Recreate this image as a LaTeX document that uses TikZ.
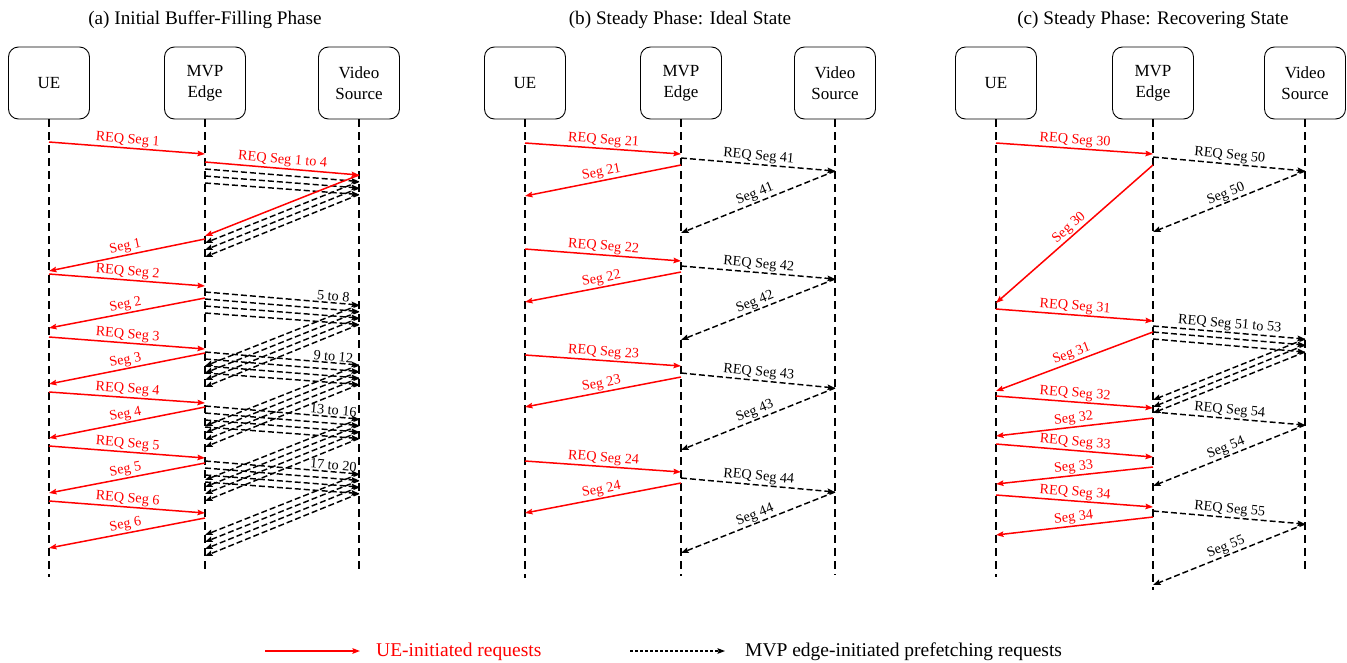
\documentclass[tikz,border=0pt]{standalone}
\usepackage{fontspec}
\setmainfont{Liberation Serif}
\usetikzlibrary{arrows.meta}
\tikzset{
  lifebox/.style={draw, line width=0.9pt, rounded corners=10pt, minimum width=81pt, minimum height=72pt, align=center, inner sep=0pt, font=\fontsize{17}{21}\selectfont},
  lifeline/.style={line width=1.3pt, dash pattern=on 8pt off 5pt},
  uemsg/.style={draw=red, line width=1.5pt, -{Stealth[length=7.5pt,width=5.5pt,inset=1.2pt]}},
  pfmsg/.style={line width=1.45pt, dash pattern=on 6pt off 3pt, -{Stealth[length=7.5pt,width=5.5pt,inset=1.2pt]}},
  lblr/.style={font=\fontsize{14.2}{16}\selectfont, text=red, sloped, above, inner sep=1pt, midway},
  lblk/.style={font=\fontsize{14.2}{16}\selectfont, text=black, sloped, above, inner sep=1pt, midway},
  ttl/.style={font=\fontsize{19.2}{22}\selectfont, anchor=base, inner sep=0pt},
  lgtxt/.style={font=\fontsize{19.5}{22}\selectfont, anchor=base west, inner sep=0pt},
}
\newcommand\mm[6]{\draw[#1] (#2|-0,#3) -- (#4|-0,#5) #6;}
\begin{document}
\begin{tikzpicture}[x=1pt,y=-1pt]
\useasboundingbox (0,0) rectangle (1347,662);

% ---------------- titles ----------------
\node[ttl] (ta) at (205,24) {(a) Initial Buffer-Filling Phase};
\node[ttl] (tb) at (680,24) {(b) Steady Phase: Ideal State};
\node[ttl] (tc) at (1153,24) {(c) Steady Phase: Recovering State};

% ---------------- boxes ----------------
\node[lifebox] (ueA)  at (49,83)  {UE};
\node[lifebox] (mvpA) at (205,83) {MVP\\Edge};
\node[lifebox] (vsA)  at (359,83) {Video\\Source};
\node[lifebox] (ueB)  at (525,83)  {UE};
\node[lifebox] (mvpB) at (681,83) {MVP\\Edge};
\node[lifebox] (vsB)  at (835,83) {Video\\Source};
\node[lifebox] (ueC)  at (996,83)  {UE};
\node[lifebox] (mvpC) at (1153,83) {MVP\\Edge};
\node[lifebox] (vsC)  at (1305,83) {Video\\Source};

% ---------------- lifelines ----------------
\coordinate (ueAend) at (49,577);   \coordinate (mvpAend) at (205,573); \coordinate (vsAend) at (359,573);
\coordinate (ueBend) at (525,578);  \coordinate (mvpBend) at (681,576); \coordinate (vsBend) at (835,575);
\coordinate (ueCend) at (996,577);  \coordinate (mvpCend) at (1153,590); \coordinate (vsCend) at (1305,572);
\foreach \n in {ueA,mvpA,vsA,ueB,mvpB,vsB,ueC,mvpC,vsC}
  \draw[lifeline] (\n.south) -- (\n end);

% ================= panel (a) =================
\mm{uemsg}{ueA}{142}{mvpA}{154}{node[lblr]{REQ Seg 1}}
\mm{uemsg}{mvpA}{162}{vsA}{175}{node[lblr]{REQ Seg 1 to 4}}
\foreach \i in {1,2,3}{
  \pgfmathsetmacro\ya{162+7*\i}
  \pgfmathsetmacro\yb{175+6.5*\i}
  \pgfmathsetmacro\yc{236+7*\i}
  \mm{pfmsg}{mvpA}{\ya}{vsA}{\yb}{}
  \mm{pfmsg}{vsA}{\yb}{mvpA}{\yc}{}
}
\mm{uemsg}{vsA}{175}{mvpA}{236}{}
\mm{uemsg}{mvpA}{239}{ueA}{271}{node[lblr]{Seg 1}}
\mm{uemsg}{ueA}{274}{mvpA}{286}{node[lblr]{REQ Seg 2}}
\mm{uemsg}{mvpA}{298}{ueA}{328}{node[lblr]{Seg 2}}
\mm{uemsg}{ueA}{337}{mvpA}{349}{node[lblr]{REQ Seg 3}}
\mm{uemsg}{mvpA}{353}{ueA}{384}{node[lblr]{Seg 3}}
\mm{uemsg}{ueA}{392}{mvpA}{403}{node[lblr]{REQ Seg 4}}
\mm{uemsg}{mvpA}{407}{ueA}{438}{node[lblr]{Seg 4}}
\mm{uemsg}{ueA}{446}{mvpA}{458}{node[lblr]{REQ Seg 5}}
\mm{uemsg}{mvpA}{463}{ueA}{493}{node[lblr]{Seg 5}}
\mm{uemsg}{ueA}{501}{mvpA}{513}{node[lblr]{REQ Seg 6}}
\mm{uemsg}{mvpA}{518}{ueA}{548}{node[lblr]{Seg 6}}

\foreach \s/\lab in {292/5 to 8, 352/9 to 12, 406/13 to 16, 461/17 to 20}{
  \mm{pfmsg}{mvpA}{\s}{vsA}{\s+13}{node[lblk,pos=0.83]{\lab}}
  \pgfmathsetmacro\yc{\s+74}
  \mm{pfmsg}{vsA}{\s+13}{mvpA}{\yc}{}
  \foreach \i in {1,2,3}{
    \pgfmathsetmacro\ya{\s+7*\i}
    \pgfmathsetmacro\yb{\s+13+6.5*\i}
    \pgfmathsetmacro\yc{\s+74+7*\i}
    \mm{pfmsg}{mvpA}{\ya}{vsA}{\yb}{}
    \mm{pfmsg}{vsA}{\yb}{mvpA}{\yc}{}
  }
}

% ================= panel (b) =================
\foreach \a/\b/\c/\d/\e/\f/\g/\h/\m/\n in {
  143/154/158/171/165/196/171/233/21/41,
  249/261/266/279/272/302/279/340/22/42,
  355/366/373/388/377/407/388/450/23/43,
  461/472/478/492/483/513/492/553/24/44}{
  \mm{uemsg}{ueB}{\a}{mvpB}{\b}{node[lblr]{REQ Seg \m}}
  \mm{pfmsg}{mvpB}{\c}{vsB}{\d}{node[lblk]{REQ Seg \n}}
  \mm{uemsg}{mvpB}{\e}{ueB}{\f}{node[lblr]{Seg \m}}
  \mm{pfmsg}{vsB}{\g}{mvpB}{\h}{node[lblk]{Seg \n}}
}

% ================= panel (c) =================
\mm{uemsg}{ueC}{143}{mvpC}{154}{node[lblr]{REQ Seg 30}}
\mm{pfmsg}{mvpC}{157}{vsC}{171}{node[lblk]{REQ Seg 50}}
\mm{pfmsg}{vsC}{171}{mvpC}{232}{node[lblk]{Seg 50}}
\mm{uemsg}{mvpC}{165}{ueC}{303}{node[lblr]{Seg 30}}
\mm{uemsg}{ueC}{309}{mvpC}{321}{node[lblr]{REQ Seg 31}}
\mm{pfmsg}{mvpC}{326}{vsC}{339}{node[lblk]{REQ Seg 51 to 53}}
\mm{pfmsg}{mvpC}{332}{vsC}{345}{}
\mm{pfmsg}{mvpC}{339}{vsC}{352}{}
\mm{pfmsg}{vsC}{339}{mvpC}{400}{}
\mm{pfmsg}{vsC}{345}{mvpC}{407}{}
\mm{pfmsg}{vsC}{352}{mvpC}{413}{}
\mm{uemsg}{mvpC}{332}{ueC}{391}{node[lblr]{Seg 31}}
\mm{uemsg}{ueC}{396}{mvpC}{408}{node[lblr]{REQ Seg 32}}
\mm{pfmsg}{mvpC}{412}{vsC}{425}{node[lblk]{REQ Seg 54}}
\mm{uemsg}{mvpC}{418}{ueC}{436}{node[lblr]{Seg 32}}
\mm{pfmsg}{vsC}{425}{mvpC}{486}{node[lblk]{Seg 54}}
\mm{uemsg}{ueC}{444}{mvpC}{457}{node[lblr]{REQ Seg 33}}
\mm{uemsg}{mvpC}{467}{ueC}{484}{node[lblr]{Seg 33}}
\mm{uemsg}{ueC}{495}{mvpC}{507}{node[lblr]{REQ Seg 34}}
\mm{pfmsg}{mvpC}{511}{vsC}{524}{node[lblk]{REQ Seg 55}}
\mm{uemsg}{mvpC}{517}{ueC}{535}{node[lblr]{Seg 34}}
\mm{pfmsg}{vsC}{524}{mvpC}{585}{node[lblk]{Seg 55}}

% ================= legend =================
\coordinate (lgR1) at (265,651); \coordinate (lgR2) at (360,651);
\coordinate (lgK1) at (630,651); \coordinate (lgK2) at (725,651);
\draw[uemsg] (lgR1) -- (lgR2);
\draw[pfmsg, dash pattern=on 3pt off 2pt, line width=1.2pt] (lgK1) -- (lgK2);
\node[lgtxt, text=red] (lgRt) at (376,656) {UE-initiated requests};
\node[lgtxt] (lgKt) at (745,656) {MVP edge-initiated prefetching requests};
\end{tikzpicture}
\end{document}
